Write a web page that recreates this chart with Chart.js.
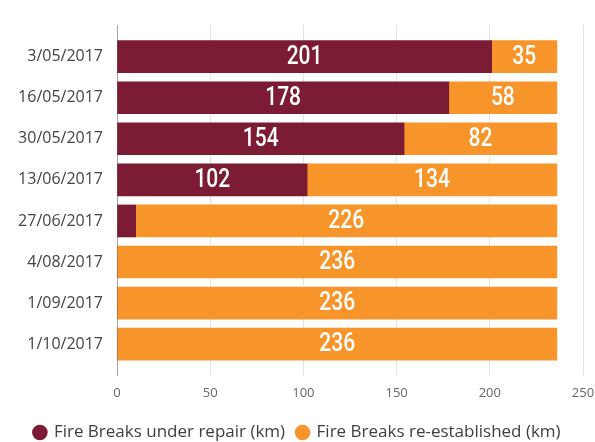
<!DOCTYPE html>
<html>
<head>
<meta charset="utf-8">
<script src="https://cdn.jsdelivr.net/npm/chart.js@4"></script>
<style>
  html, body { margin: 0; padding: 0; background: #fff; }
  #wrap { width: 595px; height: 442px; }
</style>
</head>
<body>
<div id="wrap"><canvas id="fire-breaks"></canvas></div>
<script>
const dates = ['3/05/2017', '16/05/2017', '30/05/2017', '13/06/2017', '27/06/2017', '4/08/2017', '1/09/2017', '1/10/2017'];
const underRepair = [201, 178, 154, 102, 10, 0, 0, 0];
const reEstablished = [35, 58, 82, 134, 226, 236, 236, 236];
const xTicks = [0, 50, 100, 150, 200, 250];

const maroon = '#7b1c34';
const orange = '#f7942a';

// white value inside each segment, skipped when the segment is too thin
const segmentLabels = {
  id: 'segmentLabels',
  afterDatasetsDraw(chart) {
    const ctx = chart.ctx;
    chart.data.datasets.forEach((ds, i) => {
      chart.getDatasetMeta(i).data.forEach((bar, j) => {
        const v = ds.data[j].x;
        if (v < 20) return;
        const mid = (bar.x + bar.base) / 2;
        ctx.save();
        ctx.translate(mid, bar.y + 1);
        ctx.scale(0.84, 1);
        ctx.fillStyle = '#fff';
        ctx.font = '500 25px Roboto';
        ctx.textAlign = 'center';
        ctx.textBaseline = 'middle';
        ctx.fillText(v, 0, 0);
        ctx.restore();
      });
    });
  }
};

const toPoints = arr => arr.map((v, i) => ({x: v, y: i}));

new Chart(document.getElementById('fire-breaks'), {
  type: 'bar',
  data: {
    datasets: [{
      label: 'Fire Breaks under repair (km)',
      data: toPoints(underRepair),
      backgroundColor: maroon,
      borderWidth: 0,
      barThickness: 32,
    }, {
      label: 'Fire Breaks re-established (km)',
      data: toPoints(reEstablished),
      backgroundColor: orange,
      borderWidth: 0,
      barThickness: 32,
    }]
  },
  plugins: [segmentLabels],
  options: {
    indexAxis: 'y',
    responsive: true,
    maintainAspectRatio: false,
    animation: false,
    layout: { padding: { top: 25, right: 0, left: 0, bottom: -9 } },
    plugins: {
      legend: {
        position: 'bottom',
        labels: {
          usePointStyle: true,
          pointStyle: 'circle',
          boxWidth: 11,
          boxHeight: 11,
          padding: 12,
          color: '#404040',
          font: { family: 'Open Sans', size: 17 }
        }
      },
      tooltip: { enabled: false }
    },
    scales: {
      x: {
        type: 'linear',
        stacked: true,
        min: 0,
        max: 250,
        afterBuildTicks: axis => { axis.ticks = xTicks.map(v => ({value: v})); },
        afterFit: axis => {
          axis.height = 37;
          axis.paddingRight = 12;
        },
        grid: { color: '#e4e4e4', drawTicks: false },
        border: { display: false },
        ticks: {
          padding: 10,
          color: '#666',
          font: { family: 'Open Sans', size: 13 }
        }
      },
      y: {
        type: 'linear',
        stacked: true,
        reverse: true,
        offset: false,
        bounds: 'data',
        min: -0.77,
        max: 7.75,
        afterBuildTicks: axis => { axis.ticks = dates.map((d, i) => ({value: i})); },
        afterFit: axis => { axis.width = 117; },
        grid: { display: false, drawTicks: false },
        border: { display: true, color: '#a6a6a6', width: 1 },
        ticks: {
          padding: 14,
          color: '#444',
          font: { family: 'Open Sans', size: 16 },
          callback: value => dates[value]
        }
      }
    }
  }
});
</script>
</body>
</html>
